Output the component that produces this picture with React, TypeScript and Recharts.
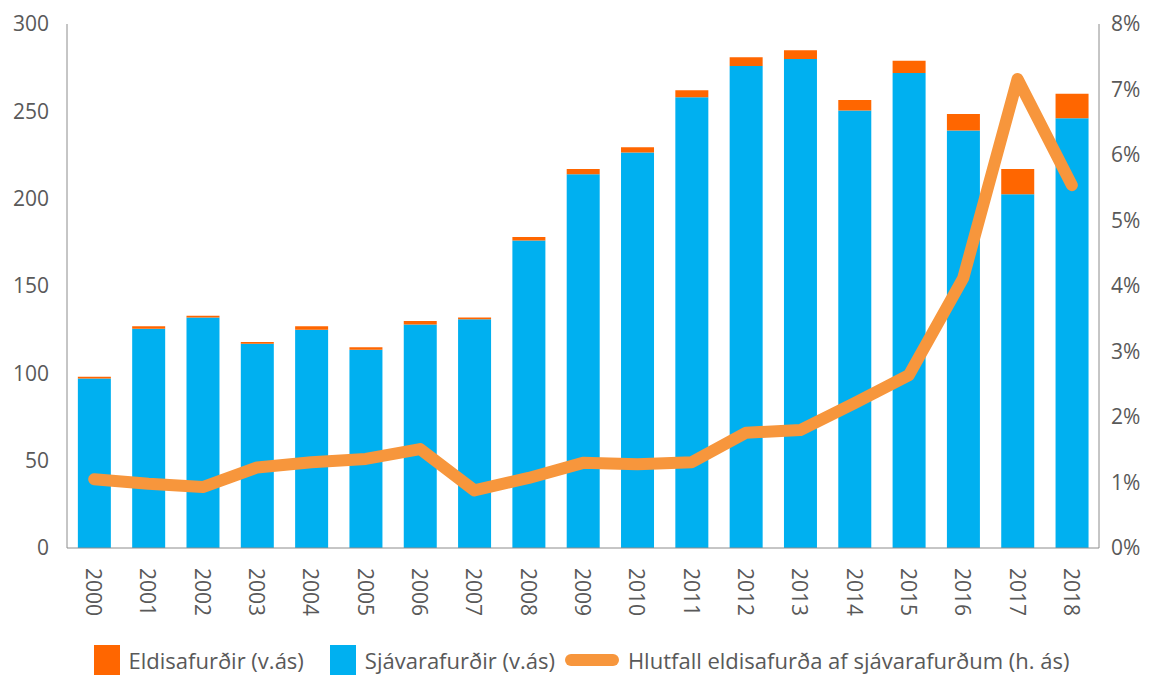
import React from 'react';
import { ComposedChart, Bar, Line, XAxis, YAxis, Legend } from 'recharts';

const years = ['2000', '2001', '2002', '2003', '2004', '2005', '2006', '2007', '2008', '2009', '2010', '2011', '2012', '2013', '2014', '2015', '2016', '2017', '2018'];
const sjavarafurdir = [97, 125.5, 132, 117, 125, 113.5, 128, 131, 176, 214, 226.5, 258, 276, 280, 250.5, 272, 239, 202.5, 246];
const eldisafurdir = [1, 1.5, 1, 1, 2, 1.5, 2, 1, 2, 3, 3, 4, 5, 5, 6, 7, 9.5, 14.5, 14];
const hlutfall = [1.05, 0.98, 0.93, 1.23, 1.31, 1.36, 1.51, 0.88, 1.07, 1.3, 1.28, 1.31, 1.76, 1.8, 2.21, 2.64, 4.12, 7.16, 5.54];
const leftTicks = [0, 50, 100, 150, 200, 250, 300];
const rightTicks = [0, 1, 2, 3, 4, 5, 6, 7, 8];

const chartData = years.map((year, i) => ({
  year,
  sjavar: sjavarafurdir[i],
  eldi: eldisafurdir[i],
  hlutfall: hlutfall[i],
}));

const FONT = '"Open Sans", sans-serif';
const GRAY = '#595959';
const BLUE = '#00B0F0';
const ORANGE = '#FF6600';
const LINE = '#F7963C';

const YearTick = ({ x, y, payload }: any) => (
  <text
    transform={`translate(${x},${y + 12}) rotate(90)`}
    textAnchor="start"
    dominantBaseline="central"
    fill={GRAY}
    fontSize={21}
    fontFamily={FONT}
  >
    {payload.value}
  </text>
);

const LegendContent = () => (
  <div
    style={{
      display: 'flex',
      alignItems: 'center',
      justifyContent: 'center',
      fontFamily: FONT,
      fontSize: 22,
      color: GRAY,
      paddingLeft: 4,
      height: 34,
    }}
  >
    <span style={{ width: 26, height: 30, background: ORANGE, display: 'inline-block', marginRight: 9 }} />
    <span style={{ marginRight: 26 }}>Eldisafurðir (v.ás)</span>
    <span style={{ width: 26, height: 30, background: BLUE, display: 'inline-block', marginRight: 9 }} />
    <span style={{ marginRight: 10 }}>Sjávarafurðir (v.ás)</span>
    <span style={{ width: 54, height: 12, borderRadius: 6, background: LINE, display: 'inline-block', marginRight: 9 }} />
    <span>Hlutfall eldisafurða af sjávarafurðum (h. ás)</span>
  </div>
);

const App: React.FC = () => {
  return (
    <ComposedChart
      width={1143}
      height={669}
      data={chartData}
      margin={{ top: 16, right: 0, left: 0, bottom: 0 }}
      barCategoryGap="20%"
    >
      <XAxis
        dataKey="year"
        tick={<YearTick />}
        tickLine={false}
        axisLine={{ stroke: '#8c8c8c' }}
        height={95}
        interval={0}
      />
      <YAxis
        yAxisId="left"
        domain={[0, 300]}
        ticks={leftTicks}
        width={59}
        tickLine={false}
        axisLine={{ stroke: '#8c8c8c' }}
        tick={{ fill: GRAY, fontSize: 21, fontFamily: FONT, dx: -10 }}
      />
      <YAxis
        yAxisId="right"
        orientation="right"
        domain={[0, 8]}
        ticks={rightTicks}
        width={52}
        tickLine={false}
        axisLine={{ stroke: '#8c8c8c' }}
        tickFormatter={(v) => `${v}%`}
        tick={{ fill: GRAY, fontSize: 21, fontFamily: FONT, dx: 4 }}
      />
      <Legend verticalAlign="bottom" content={<LegendContent />} wrapperStyle={{ bottom: 0 }} />
      <Bar yAxisId="left" dataKey="sjavar" stackId="a" fill={BLUE} isAnimationActive={false} name="Sjávarafurðir (v.ás)" />
      <Bar yAxisId="left" dataKey="eldi" stackId="a" fill={ORANGE} isAnimationActive={false} name="Eldisafurðir (v.ás)" />
      <Line
        yAxisId="right"
        dataKey="hlutfall"
        type="linear"
        stroke={LINE}
        strokeWidth={12}
        strokeLinecap="round"
        strokeLinejoin="round"
        dot={false}
        activeDot={false}
        isAnimationActive={false}
        name="Hlutfall eldisafurða af sjávarafurðum (h. ás)"
      />
    </ComposedChart>
  );
};

export default App;
